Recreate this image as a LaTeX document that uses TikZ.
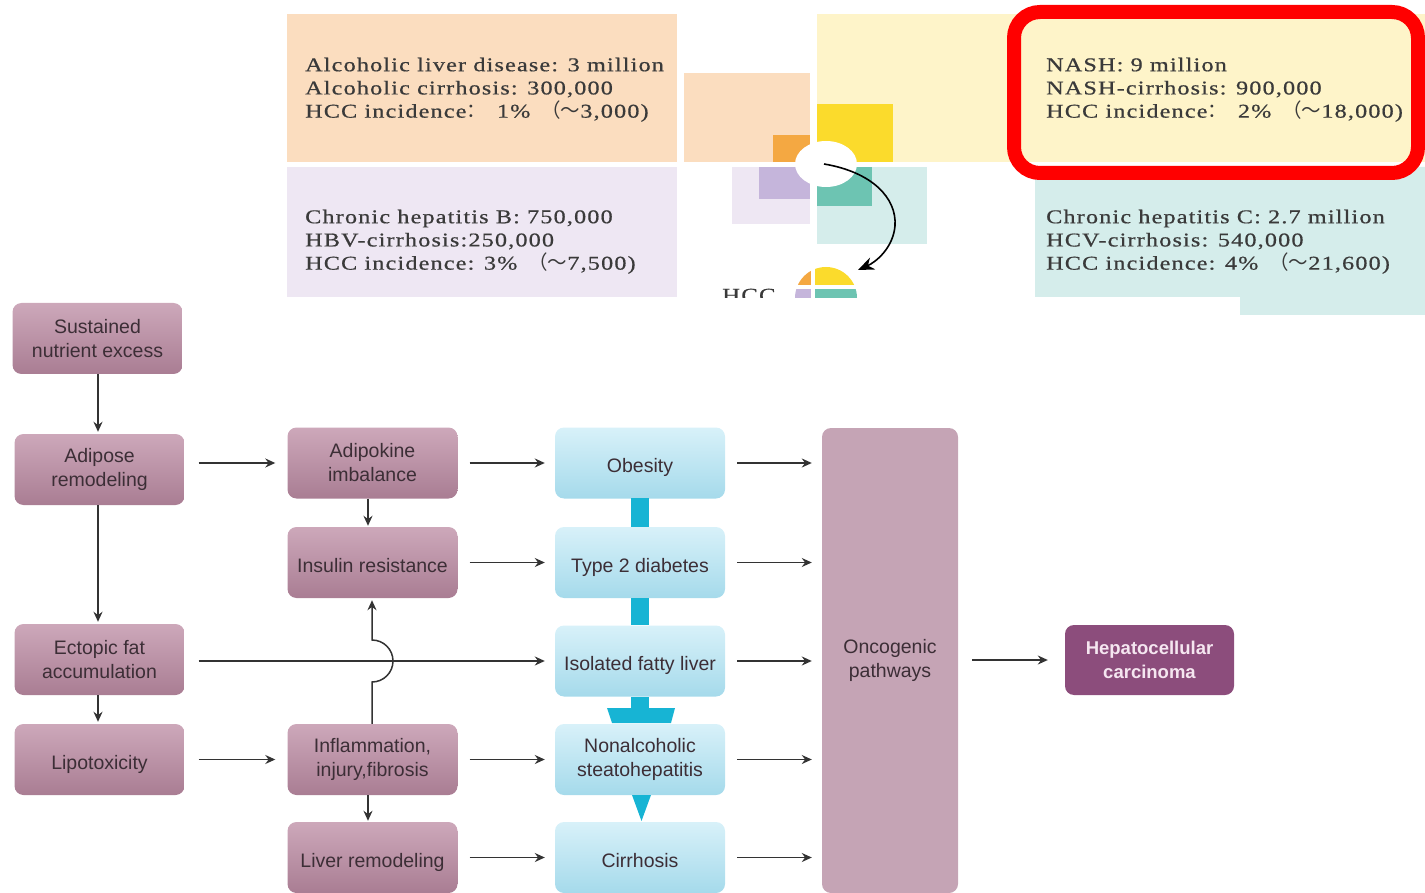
\documentclass[tikz,border=0pt]{standalone}
\usepackage{fontspec}
\setmainfont{Liberation Serif}
\setsansfont{Liberation Sans}
\newfontfamily\topfont{Liberation Serif}[FakeStretch=1.24,LetterSpace=6,FakeBold=0.6]
\newfontfamily\cjk{Noto Sans CJK SC}
\usetikzlibrary{arrows.meta}
\definecolor{peachL}{HTML}{FBDDBF}
\definecolor{lavL}{HTML}{EEE7F3}
\definecolor{yellowL}{HTML}{FEF4C9}
\definecolor{yellowS}{HTML}{FBDB2C}
\definecolor{orangeS}{HTML}{F4A842}
\definecolor{lavM}{HTML}{C5B5DB}
\definecolor{tealM}{HTML}{6DC4B2}
\definecolor{tealL}{HTML}{D5EDEB}
\definecolor{redbox}{HTML}{FF0000}
\definecolor{cyanbar}{HTML}{17B4D4}
\definecolor{mauveT}{HTML}{CDA8BA}
\definecolor{mauveB}{HTML}{A97D93}
\definecolor{mauveF}{HTML}{C5A4B5}
\definecolor{cyanT}{HTML}{D8F1F9}
\definecolor{cyanB}{HTML}{A5DAEB}
\definecolor{hccbox}{HTML}{8C4D7C}
\definecolor{hcctext}{HTML}{F5E6F0}
\definecolor{boxtext}{HTML}{3C2E36}
\definecolor{toptext}{HTML}{3A3A3A}
\definecolor{arrowc}{HTML}{333333}
\newcommand{\wsp}{\hspace{11pt}}
\begin{document}
\begin{tikzpicture}[x=1pt,y=-1pt,
  toptxt/.style={anchor=north west,inner sep=0pt,align=left,text=toptext,
    font=\topfont\fontsize{19.5}{23.2}\selectfont},
  basebox/.style={rounded corners=9pt,minimum width=170pt,minimum height=71pt,
    inner sep=0pt,align=center,text=boxtext,font=\sffamily\fontsize{19.5}{24}\selectfont},
  oneline/.style={text height=23pt,text depth=4pt},
  mbox/.style={basebox,top color=mauveT,bottom color=mauveB},
  cbox/.style={basebox,top color=cyanT,bottom color=cyanB},
  arr/.style={draw=arrowc,line width=1.5pt,-{Stealth[length=10pt,width=9pt]}},
  bigarr/.style={draw=black,line width=1.6pt,-{Stealth[length=16pt,width=13pt]}}
]
\useasboundingbox (0,0) rectangle (1425,893);
% ---------- top graphic ----------
\fill[peachL] (287,14) rectangle (677,162);
\fill[lavL] (287,167) rectangle (677,297);
\fill[yellowL] (817,14) rectangle (1425,162);
\fill[tealL] (1035,167) -- (1425,167) -- (1425,315) -- (1240,315) -- (1240,297) -- (1035,297) -- cycle;
\fill[peachL] (684,73) rectangle (810,162);
\fill[yellowS] (817,104) rectangle (893,162);
\fill[orangeS] (773,135) rectangle (810,162);
\fill[lavL] (732,167) rectangle (810,224);
\fill[lavM] (759,167) rectangle (810,199);
\fill[tealL] (817,167) rectangle (927,244);
\fill[tealM] (817,167) rectangle (872,206);
\fill[white] (826,164) ellipse [x radius=31, y radius=23];
\coordinate (cstart) at (824,164);
\coordinate (cmid) at (895,226);
\coordinate (cend) at (858,270);
\draw[bigarr] (cstart) .. controls (872,172) and (897,198) .. (cmid) .. controls (893,248) and (876,262) .. (cend);
\begin{scope}
  \clip (0,0) rectangle (1425,298);
  \node[anchor=base west,inner sep=0pt,text=toptext,font=\topfont\fontsize{20}{23}\selectfont] (hcclabel) at (722,302) {HCC};
  \begin{scope}
    \clip (826,298) circle (31);
    \fill[orangeS] (790,260) rectangle (811,285);
    \fill[yellowS] (815,260) rectangle (862,285);
    \fill[lavM] (790,289) rectangle (811,305);
    \fill[tealM] (815,289) rectangle (862,305);
  \end{scope}
\end{scope}
\node[toptxt] (alc) at (305,57.5) {Alcoholic liver disease: 3 million\\Alcoholic cirrhosis: 300,000\\HCC incidence{\cjk ：}\wsp 1\%\wsp{\cjk （～}3,000)};
\node[toptxt] (hbv) at (305,209.5) {Chronic hepatitis B: 750,000\\HBV-cirrhosis:250,000\\HCC incidence: 3\%\wsp{\cjk （～}7,500)};
\node[toptxt] (nash) at (1046,57.5) {NASH: 9 million\\NASH-cirrhosis: 900,000\\HCC incidence{\cjk ：}\wsp 2\%\wsp{\cjk （～}18,000)};
\node[toptxt] (hcv) at (1046,209.5) {Chronic hepatitis C: 2.7 million\\HCV-cirrhosis: 540,000\\HCC incidence: 4\%\wsp{\cjk （～}21,600)};
\draw[redbox,line width=14pt,rounded corners=26pt] (1014,12) rectangle (1418,173);
% ---------- bottom flowchart ----------
\node[mbox] (sust) at (97.5,338.5) {Sustained\\nutrient excess};
\node[mbox] (adip) at (99.5,469.5) {Adipose\\remodeling};
\node[mbox] (ecto) at (99.5,659.5) {Ectopic fat\\accumulation};
\node[mbox,oneline] (lipo) at (99.5,759.5) {Lipotoxicity};
\node[mbox] (adk) at (372.5,463) {Adipokine\\imbalance};
\node[mbox,oneline] (ins) at (372.5,562.5) {Insulin resistance};
\node[mbox] (infl) at (372.5,759.5) {Inflammation,\\injury,fibrosis};
\node[mbox,oneline] (livr) at (372.5,857.5) {Liver remodeling};
\node[cbox,oneline] (obes) at (640,463) {Obesity};
\node[cbox,oneline] (t2d) at (640,562.5) {Type 2 diabetes};
\node[cbox,oneline] (ifl) at (640,661) {Isolated fatty liver};
\node[cbox] (nafl) at (640,759.5) {Nonalcoholic\\steatohepatitis};
\node[cbox,oneline] (cirr) at (640,857.5) {Cirrhosis};
\node[basebox,fill=mauveF,minimum width=136pt,minimum height=465pt] (onco) at (890,660.5) {Oncogenic\\pathways};
\node[basebox,fill=hccbox,text=hcctext,minimum width=169pt,minimum height=70pt,font=\sffamily\bfseries\fontsize{18.5}{24}\selectfont] (hcc) at (1149.5,660) {Hepatocellular\\carcinoma};
% cyan connectors
\fill[cyanbar] (631,498) rectangle (649,527);
\fill[cyanbar] (631,598) rectangle (649,625);
\fill[cyanbar] (631,697) rectangle (649,709);
\fill[cyanbar] (607,708) -- (675,708) -- (671,723) -- (612,723) -- cycle;
\fill[cyanbar] (632,795) -- (651,795) -- (641.5,821) -- cycle;
% arrows column 1
\draw[arr,shorten >=2pt] (sust.south -| 98,0) -- (adip.north -| 98,0);
\draw[arr,shorten >=2pt] (adip.south -| 98,0) -- (ecto.north -| 98,0);
\draw[arr,shorten >=2pt] (ecto.south -| 98,0) -- (lipo.north -| 98,0);
% column 1 -> 2
\draw[arr,shorten <=14pt,shorten >=12pt] (adip.east |- adk.east) -- (adk.west);
\draw[arr,shorten <=14pt,shorten >=12pt] (lipo.east) -- (infl.west);
\draw[arr,shorten <=14pt,shorten >=10pt] (ecto.east |- ifl.west) -- (ifl.west);
% column 2 vertical
\draw[arr,shorten >=1pt] (adk.south -| 368,0) -- (ins.north -| 368,0);
\draw[arr,shorten >=1pt] (infl.south -| 368,0) -- (livr.north -| 368,0);
\coordinate (hopA) at (372,682);
\draw[arr,shorten >=2pt] (infl.north -| 372,0) -- (hopA) arc[start angle=90,end angle=-90,radius=21] -- (ins.south -| 372,0);
% column 2 -> 3
\draw[arr,shorten <=12pt,shorten >=10pt] (adk.east) -- (obes.west);
\draw[arr,shorten <=12pt,shorten >=10pt] (ins.east) -- (t2d.west);
\draw[arr,shorten <=12pt,shorten >=10pt] (infl.east) -- (nafl.west);
\draw[arr,shorten <=12pt,shorten >=10pt] (livr.east) -- (cirr.west);
% column 3 -> oncogenic
\draw[arr,shorten <=12pt,shorten >=10pt] (obes.east) -- (obes.east -| onco.west);
\draw[arr,shorten <=12pt,shorten >=10pt] (t2d.east) -- (t2d.east -| onco.west);
\draw[arr,shorten <=12pt,shorten >=10pt] (ifl.east) -- (ifl.east -| onco.west);
\draw[arr,shorten <=12pt,shorten >=10pt] (nafl.east) -- (nafl.east -| onco.west);
\draw[arr,shorten <=12pt,shorten >=10pt] (cirr.east) -- (cirr.east -| onco.west);
\draw[arr,shorten <=14pt,shorten >=17pt] (onco.east |- hcc.west) -- (hcc.west);
\end{tikzpicture}
\end{document}
